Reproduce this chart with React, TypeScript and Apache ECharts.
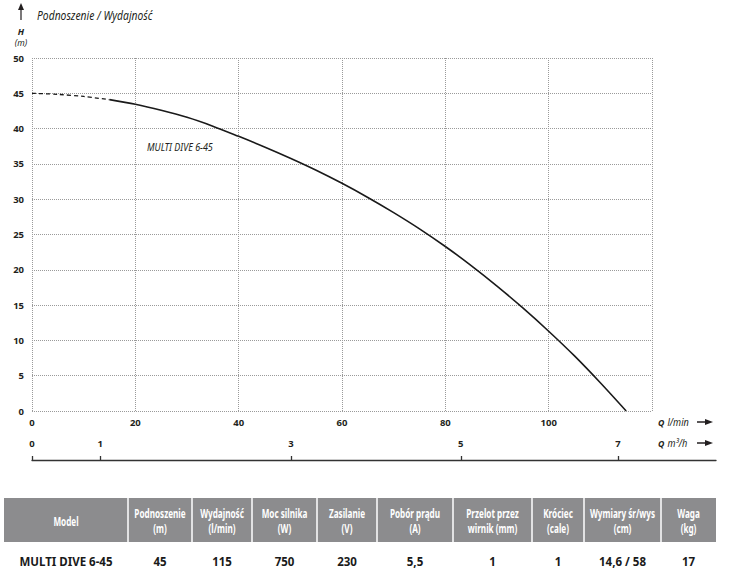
import React, { useEffect, useRef } from 'react';
import * as echarts from 'echarts';

// ---- data ----
const FLOW_LMIN = [0, 5, 10, 15, 20, 25, 30, 35, 40, 45, 50, 55, 60, 65, 70, 75, 80, 85, 90, 95, 100, 105, 110, 115];
const HEAD_M = [45, 44.85, 44.55, 44.1, 43.45, 42.6, 41.6, 40.35, 38.9, 37.4, 35.8, 34.1, 32.25, 30.25, 28.1, 25.8, 23.3, 20.6, 17.7, 14.6, 11.3, 7.8, 4.0, 0];
const DASHED_POINTS = 4; // first points drawn dashed (extrapolated part)
const CURVE_NAME = 'MULTI DIVE 6-45';

// m3/h secondary scale: tick labels and their position on the l/min scale
const M3H_LABELS = ['0', '1', '3', '5', '7'];
const M3H_POS_LMIN = [0, 13.2, 50.1, 83.0, 113.4];

const TITLE = 'Podnoszenie / Wydajność';

const HEADER_L1 = ['Model', 'Podnoszenie', 'Wydajność', 'Moc silnika', 'Zasilanie', 'Pobór prądu', 'Przelot przez', 'Króciec', 'Wymiary śr/wys', 'Waga'];
const HEADER_L2 = ['', '(m)', '(l/min)', '(W)', '(V)', '(A)', 'wirnik (mm)', '(cale)', '(cm)', '(kg)'];
const ROW_VALUES = ['MULTI DIVE 6-45', '45', '115', '750', '230', '5,5', '1', '1', '14,6 / 58', '17'];

// ---- layout ----
const COL_EDGES = [4, 128, 192, 252, 317, 377, 453, 532, 584, 661, 716];
const INK = '#231f20';
const SANS = '"Noto Sans", "Open Sans", sans-serif';

const PX_PER_UNIT = 620 / 120;

function buildOption() {
  const pts = FLOW_LMIN.map((q, i) => [q, HEAD_M[i]]);
  const dashed = pts.slice(0, DASHED_POINTS);
  const solid = pts.slice(DASHED_POINTS - 1);

  const graphics: any[] = [];
  // top-left arrow & title
  graphics.push({ type: 'line', shape: { x1: 21, y1: 20, x2: 21, y2: 8 }, style: { stroke: INK, lineWidth: 1.2 } });
  graphics.push({ type: 'polygon', shape: { points: [[18, 10], [24, 10], [21, 3]] }, style: { fill: INK } });
  graphics.push({ type: 'text', x: 37, y: 15, scaleX: 0.86, style: { text: TITLE, fontFamily: SANS, fontStyle: 'italic', fontSize: 12, fill: INK, align: 'left', verticalAlign: 'middle' } });
  graphics.push({ type: 'text', x: 21, y: 31, style: { text: 'H', fontFamily: SANS, fontStyle: 'italic', fontWeight: 'bold', fontSize: 9, fill: INK, align: 'center', verticalAlign: 'middle' } });
  graphics.push({ type: 'text', x: 21, y: 42, style: { text: '(m)', fontFamily: SANS, fontStyle: 'italic', fontSize: 8.5, fill: INK, align: 'center', verticalAlign: 'middle' } });
  // curve label
  graphics.push({ type: 'text', x: 147, y: 147, scaleX: 0.9, style: { text: CURVE_NAME, fontFamily: SANS, fontStyle: 'italic', fontSize: 10, fill: INK, align: 'left', verticalAlign: 'middle' } });
  // axis unit labels + arrows
  const unitLabel = (y: number, unit: string) => {
    graphics.push({
      type: 'text', x: 658, y, scaleX: 0.92,
      style: {
        text: `{q|Q} {u|${unit}}`, align: 'left', verticalAlign: 'middle',
        rich: {
          q: { fontFamily: SANS, fontStyle: 'italic', fontWeight: 'bold', fontSize: 9.5, fill: INK },
          u: { fontFamily: SANS, fontStyle: 'italic', fontSize: 10, fill: INK },
        },
      },
    });
    graphics.push({ type: 'line', shape: { x1: 697, y1: y, x2: 707, y2: y }, style: { stroke: INK, lineWidth: 1.5 } });
    graphics.push({ type: 'polygon', shape: { points: [[705, y - 3], [713, y], [705, y + 3]] }, style: { fill: INK } });
  };
  unitLabel(422, 'l/min');
  unitLabel(443, 'm³/h');

  // table header
  graphics.push({ type: 'rect', shape: { x: COL_EDGES[0], y: 498, width: COL_EDGES[COL_EDGES.length - 1] - COL_EDGES[0], height: 44 }, style: { fill: '#8c8c8e' } });
  for (let i = 1; i < COL_EDGES.length - 1; i++) {
    graphics.push({ type: 'line', shape: { x1: COL_EDGES[i], y1: 498, x2: COL_EDGES[i], y2: 542 }, style: { stroke: '#ffffff', lineWidth: 1.5 } });
  }
  HEADER_L1.forEach((h, i) => {
    const cx = (COL_EDGES[i] + COL_EDGES[i + 1]) / 2;
    const txt = HEADER_L2[i] ? `${h}\n${HEADER_L2[i]}` : h;
    graphics.push({ type: 'text', x: cx, y: 521, scaleX: 0.68, style: { text: txt, fontFamily: SANS, fontWeight: 'bold', fontSize: 12, lineHeight: 15, fill: '#ffffff', align: 'center', verticalAlign: 'middle' } });
  });
  ROW_VALUES.forEach((v, i) => {
    const cx = (COL_EDGES[i] + COL_EDGES[i + 1]) / 2;
    graphics.push({ type: 'text', x: cx, y: 561, style: { text: v, fontFamily: SANS, fontWeight: 'bold', fontSize: 11.5, fill: '#1a1a1a', align: 'center', verticalAlign: 'middle' } });
  });

  const splitStyle = { show: true, lineStyle: { color: '#9a9a9a', type: 'dotted' as const, width: 1 } };
  const tickLabel = { color: INK, fontFamily: SANS, fontWeight: 'bold' as const, fontSize: 9.5 };

  return {
    animation: false,
    backgroundColor: '#ffffff',
    grid: [
      { left: 32, top: 58, width: 620, height: 353, containLabel: false },
      { left: 32, top: 459, width: 684, height: 1, containLabel: false },
    ],
    xAxis: [
      {
        gridIndex: 0, type: 'value', min: 0, max: 120, interval: 20,
        axisLine: { show: false }, axisTick: { show: false },
        splitLine: splitStyle,
        axisLabel: { ...tickLabel, margin: 6, showMaxLabel: false },
      },
      {
        gridIndex: 1, type: 'value', min: 0, max: 684 / PX_PER_UNIT, position: 'bottom',
        axisLine: { show: true, lineStyle: { color: '#333333', width: 1.3 } },
        axisTick: { show: true, inside: true, length: 4, customValues: M3H_POS_LMIN, lineStyle: { color: '#333333', width: 1.3 } },
        splitLine: { show: false },
        axisLabel: {
          ...tickLabel, inside: true, margin: 12, customValues: M3H_POS_LMIN,
          formatter: (v: number) => {
            const idx = M3H_POS_LMIN.findIndex((p) => Math.abs(p - v) < 1e-6);
            return idx >= 0 ? M3H_LABELS[idx] : '';
          },
        },
      },
    ],
    yAxis: [
      {
        gridIndex: 0, type: 'value', min: 0, max: 50, interval: 5,
        axisLine: { show: false }, axisTick: { show: false },
        splitLine: splitStyle,
        axisLabel: { ...tickLabel, margin: 8 },
      },
      { gridIndex: 1, type: 'value', show: false },
    ],
    series: [
      {
        type: 'line', xAxisIndex: 0, yAxisIndex: 0, data: dashed, smooth: 0.3, symbol: 'none',
        lineStyle: { color: '#1a1a1a', width: 1.3, type: [4, 3] },
      },
      {
        type: 'line', xAxisIndex: 0, yAxisIndex: 0, data: solid, smooth: 0.3, symbol: 'none',
        lineStyle: { color: '#1a1a1a', width: 1.6 },
      },
    ],
    graphic: graphics,
  };
}

export default function App() {
  const ref = useRef<HTMLDivElement>(null);
  useEffect(() => {
    document.body.style.margin = '0';
    const chart = echarts.init(ref.current!, null, { renderer: 'svg' });
    chart.setOption(buildOption() as any);
    return () => chart.dispose();
  }, []);
  return <div ref={ref} style={{ width: 747, height: 577 }} />;
}
